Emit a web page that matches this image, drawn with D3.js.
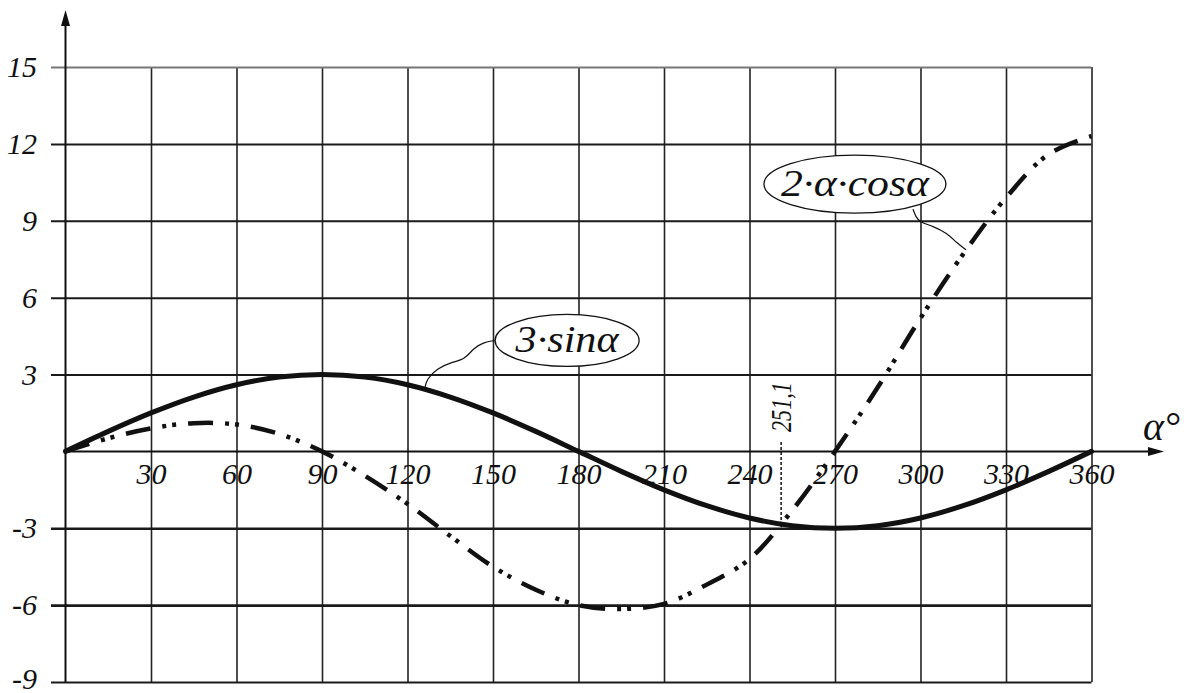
<!DOCTYPE html>
<html><head><meta charset="utf-8">
<script src="https://cdn.jsdelivr.net/npm/d3@7"></script>
<style>
html,body{margin:0;padding:0;background:#fff;}
svg text{font-family:"Liberation Serif","Times New Roman",serif !important;font-style:italic !important;fill:#111;}
</style></head>
<body>
<svg id="c" width="1190" height="693"></svg>
<script>
// ---- data ----
const angles = [0,15,30,45,60,75,90,105,120,135,150,165,180,195,210,225,240,255,270,285,300,315,330,345,360];
const sinValues = [0,0.78,1.5,2.12,2.6,2.9,3,2.9,2.6,2.12,1.5,0.78,0,-0.78,-1.5,-2.12,-2.6,-2.9,-3,-2.9,-2.6,-2.12,-1.5,-0.78,0];
const cosValues = [0,0.51,0.9,1.1,1.05,0.68,0,-0.95,-2.05,-3.3,-4.5,-5.4,-6.0,-6.15,-5.95,-5.2,-4.2,-2.3,0,2.5,5.2,7.7,9.9,11.6,12.3];
const xTicks = [30,60,90,120,150,180,210,240,270,300,330,360];
const yTicks = [-9,-6,-3,3,6,9,12,15];
const intersectAngle = 251.1;
const intersectLabel = "251,1";
const sinLabel = "3·sinα";
const cosLabel = "2·α·cosα";
const axisLabel = "α°";

const FONT = '"Liberation Serif","Times New Roman",serif';
const svg = d3.select("#c");
const x = d3.scaleLinear().domain([0,360]).range([65.5,1091.5]);
const y = d3.scaleLinear().domain([-9,15]).range([682,67]);

// vertical grid
const gv = svg.append("g").attr("transform",`translate(0,${y(-9)})`)
  .call(d3.axisBottom(x).tickValues(xTicks).tickSize(-(y(-9)-y(15))).tickFormat(""));
gv.select(".domain").remove();
gv.selectAll(".tick line").attr("stroke","#222").attr("stroke-width",1.6);

// horizontal grid + y labels
const gh = svg.append("g").attr("transform",`translate(51,0)`)
  .call(d3.axisLeft(y).tickValues(yTicks).tickSize(-(x(360)-51)).tickPadding(14).tickFormat(d=>d));
gh.attr("font-family",FONT).attr("font-style","italic").attr("font-size",30);
gh.select(".domain").remove();
gh.selectAll(".tick line").attr("stroke",d=>d===15?"#777":"#1a1a1a").attr("stroke-width",d=>(d===-3||d===-6)?2.6:2);
gh.selectAll(".tick text").attr("fill","#111").attr("font-family",FONT).attr("font-style","italic")
  .attr("dy",d=>d===-9?"0.2em":"0.32em");

// axes with arrows
svg.append("line").attr("x1",x(0)).attr("x2",x(0)).attr("y1",y(-9)).attr("y2",22).attr("stroke","#111").attr("stroke-width",2);
svg.append("path").attr("d",`M${x(0)},10 L${x(0)-4.5},26 L${x(0)+4.5},26 Z`).attr("fill","#111");
svg.append("line").attr("x1",x(0)).attr("x2",1150).attr("y1",y(0)).attr("y2",y(0)).attr("stroke","#111").attr("stroke-width",2);
svg.append("path").attr("d",`M1164,${y(0)} L1148,${y(0)-4.5} L1148,${y(0)+4.5} Z`).attr("fill","#111");

// x labels
const gx = svg.append("g").attr("transform",`translate(0,${y(0)})`)
  .call(d3.axisBottom(x).tickValues(xTicks).tickSize(0).tickPadding(11));
gx.attr("font-family",FONT).attr("font-style","italic").attr("font-size",30);
gx.select(".domain").remove();
gx.selectAll(".tick text").attr("fill","#111").attr("font-family",FONT).attr("font-style","italic");

svg.append("text").attr("x",1143).attr("y",440).attr("font-size",40).attr("font-family",FONT).attr("font-style","italic").text(axisLabel);

// curves
const line = d3.line().x((d,i)=>x(angles[i])).y(d=>y(d)).curve(d3.curveCatmullRom.alpha(0.5));
svg.append("path").attr("d",line(cosValues)).attr("fill","none").attr("stroke","#111")
  .attr("stroke-width",4.5).attr("stroke-dasharray","25 12 4 6 4 12");
svg.append("path").attr("d",line(sinValues)).attr("fill","none").attr("stroke","#111")
  .attr("stroke-width",5).attr("stroke-linecap","round");

// intersection marker
const yi = 3*Math.sin(intersectAngle*Math.PI/180);
svg.append("line").attr("x1",x(intersectAngle)).attr("x2",x(intersectAngle))
  .attr("y1",442).attr("y2",y(yi)).attr("stroke","#111").attr("stroke-width",1.5).attr("stroke-dasharray","3 2");
svg.append("text").attr("transform",`translate(${x(intersectAngle)+10},432) rotate(-90) scale(0.74,1)`)
  .attr("font-size",30).attr("font-family",FONT).attr("font-style","italic").text(intersectLabel);

// labels with ellipses
function bubble(cx,cy,rx,ry,label,tl,pts){
  svg.append("path").attr("d",d3.line().curve(d3.curveBasis)(pts)).attr("fill","none").attr("stroke","#111").attr("stroke-width",1.2);
  svg.append("ellipse").attr("cx",cx).attr("cy",cy).attr("rx",rx).attr("ry",ry).attr("fill","#fff").attr("stroke","#111").attr("stroke-width",1.3);
  svg.append("text").attr("x",cx).attr("y",cy+12).attr("text-anchor","middle").attr("font-size",38)
    .attr("font-family",FONT).attr("font-style","italic")
    .attr("textLength",tl).attr("lengthAdjust","spacingAndGlyphs").text(label);
}
const sx = x(126), sy = y(3*Math.sin(126*Math.PI/180));
bubble(x(176),y(4.33),72,26,sinLabel,103,
  [[x(176)-72,y(4.33)],[x(176)-84,y(4.33)+2],[x(176)-94,y(4.33)+8],[x(176)-102,y(4.33)+19],[x(176)-116,y(4.33)+22],[x(176)-130,y(4.33)+28],[sx+2,sy-10],[sx,sy]]);
const cx2 = x(277), cy2 = y(10.43);
const ex = x(316), ey = y(7.75);
bubble(cx2,cy2,91,29,cosLabel,148,
  [[cx2+58,cy2+25],[cx2+61,cy2+33],[cx2+65,cy2+38],[cx2+78,cy2+42],[cx2+92,cy2+49],[cx2+102,cy2+59],[ex,ey-3]]);
</script>
</body></html>
